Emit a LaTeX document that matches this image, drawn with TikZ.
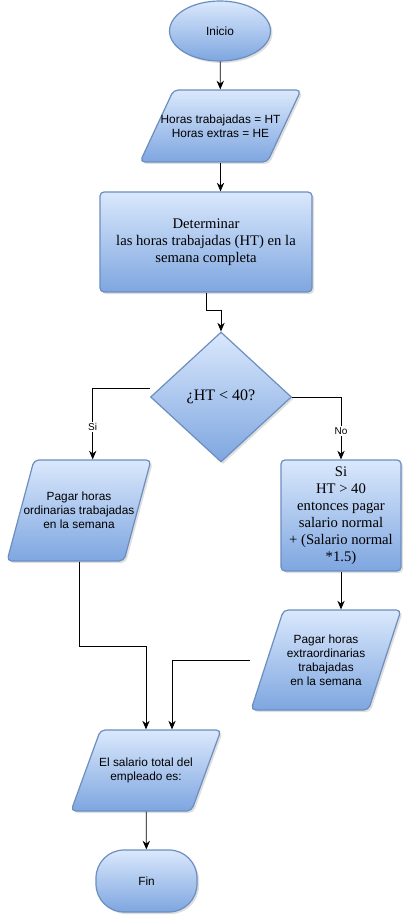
\documentclass[tikz,border=0pt]{standalone}
\usepackage{fontspec}
\setmainfont{Liberation Serif}
\setsansfont{Liberation Sans}
\usetikzlibrary{shapes.geometric,shadows,arrows.meta,calc}
\definecolor{azulsup}{HTML}{DAE8FC}
\definecolor{azulinf}{HTML}{7EA6E0}
\definecolor{azulborde}{HTML}{6C8EBF}
\tikzset{x=0.75pt, y=-0.75pt,
  caja/.style={draw=azulborde, line width=0.9pt, top color=azulsup, bottom color=azulinf,
    drop shadow={opacity=0.25, shadow xshift=1.5pt, shadow yshift=-1.5pt}, align=center, inner sep=2pt},
  terminal/.style={caja, ellipse, minimum width=75.75pt, minimum height=45pt, font=\sffamily\fontsize{8.9}{10}\selectfont},
  terminalfin/.style={caja, rectangle, rounded corners=21pt, minimum width=75.75pt, minimum height=46.5pt, font=\sffamily\fontsize{8.9}{10}\selectfont},
  proceso/.style={caja, rectangle, rounded corners=3pt, font=\fontsize{11}{12.75}\selectfont},
  datosio/.style={caja, trapezium, trapezium stretches body, rounded corners=3.5pt, inner xsep=0pt},
  textoio/.style={align=center, font=\sffamily\fontsize{8.9}{10.5}\selectfont},
  decision/.style={caja, diamond, font=\fontsize{12}{14}\selectfont},
  flecha/.style={-{Stealth[length=6.5pt,width=5.5pt]}, line width=0.6pt},
  etiqueta/.style={fill=white, inner sep=1pt, font=\sffamily\fontsize{7.5}{9}\selectfont}}

\begin{document}
\begin{tikzpicture}
  \useasboundingbox (0,0) rectangle (405,916);
  \node[terminal] (inicio) at (220,31) {Inicio};
  \node[datosio, trapezium left angle=65, trapezium right angle=115, minimum width=120.75pt, inner ysep=27pt,
    label={[textoio]center:{Horas trabajadas = HT\\Horas extras = HE}}] (datos) at (220.5,126) {};
  \node[proceso, minimum width=159pt, minimum height=75pt] (calc) at (206,242) {Determinar\\las horas trabajadas (HT) en la\\semana completa};
  \node[decision, minimum width=105.75pt, minimum height=97.5pt] (cond) at (221,397) {¿HT < 40?};
  \node[datosio, trapezium left angle=75, trapezium right angle=105, minimum width=108pt, inner ysep=37.875pt,
    label={[textoio]center:{Pagar horas\\ordinarias trabajadas\\en la semana}}] (pord) at (79,510.5) {};
  \node[proceso, minimum width=90pt, minimum height=83.25pt] (reglas) at (341,515.5) {Si\\HT > 40\\entonces pagar\\salario normal\\+ (Salario normal\\*1.5)};
  \node[datosio, trapezium left angle=72, trapezium right angle=108, minimum width=112.5pt, inner ysep=37.5pt,
    label={[textoio]center:{Pagar horas\\extraordinarias\\trabajadas\\en la semana}}] (pext) at (326,660) {};
  \node[datosio, trapezium left angle=70, trapezium right angle=110, minimum width=112.5pt, inner ysep=30.375pt,
    label={[textoio]center:{El salario total del\\empleado es:}}] (salario) at (146,770.5) {};
  \node[terminalfin] (fin) at (146.5,881) {Fin};

  \draw[flecha] (inicio) -- (datos);
  \draw[flecha] (datos) -- (datos |- calc.north);
  \draw[flecha] (calc.south) -- ++(0,18) -| (cond.north);
  \draw[flecha] ([yshift=6.5pt]cond.west) -| ($(pord.top left corner)!.5!(pord.top right corner)$) node[etiqueta, pos=0.77] {Si};
  \draw[flecha] (cond.east) -| (reglas.north) node[etiqueta, pos=0.77] {No};
  \draw[flecha] (pord.center |- pord.south) -- ++(0,85) -| (salario.center |- salario.north);
  \draw[flecha] (reglas.south) -- (reglas.south |- pext.north);
  \draw[flecha] (pext.center -| pext.bottom left corner) -| ($(salario.center |- salario.north)+(26,0)$);
  \draw[flecha] (salario) -- (fin);
\end{tikzpicture}
\end{document}
